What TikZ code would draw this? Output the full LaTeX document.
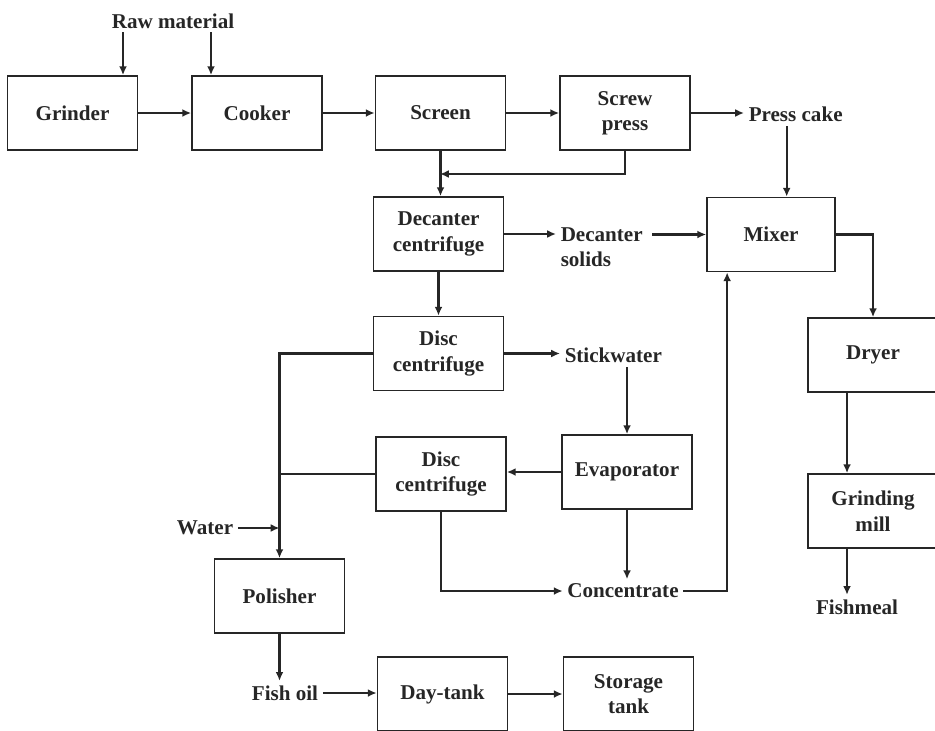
\documentclass[tikz,border=0pt]{standalone}
\usepackage{fontspec}
\setmainfont{Liberation Serif}
\usepackage{tikz}
\usetikzlibrary{arrows.meta,positioning,calc}

\begin{document}
\begin{tikzpicture}[
  x=0.02cm, y=-0.02cm,
  unit/.style={rectangle, draw=black!85, line width=1pt, minimum width=2.6cm, minimum height=1.48cm, align=center, inner sep=1pt, font=\fontsize{12}{14.5}\selectfont\bfseries, text=black!85},
  stream/.style={inner sep=2.5pt, align=left, font=\fontsize{12}{14.5}\selectfont\bfseries, text=black!85},
  flow/.style={line width=1.3pt, draw=black!85},
  >={Latex[length=5pt,width=4.5pt]}
]
  \useasboundingbox (0,0) rectangle (935,730);

  % Top row: raw material to press cake
  \node[stream] (raw) at (173, 21) {Raw material};
  \node[unit] (grinder) at (72.5, 113) {Grinder};
  \node[unit] (cooker) at (257, 113) {Cooker};
  \node[unit] (screen) at (440.5, 113) {Screen};
  \node[unit] (screw) at (625, 113) {Screw\\press};
  \node[stream, anchor=west] (cake) at (744, 114) {Press cake};

  % Second row
  \node[unit] (decanter) at (438.5, 234) {Decanter\\centrifuge};
  \node[stream, anchor=west] (solids) at (556, 247) {Decanter\\solids};
  \node[unit, minimum width=2.56cm] (mixer) at (771, 234.5) {Mixer};

  % Oil and water branch
  \node[unit] (disc1) at (438.5, 353.5) {Disc\\centrifuge};
  \node[stream, anchor=west] (stick) at (560, 355) {Stickwater};
  \node[unit] (dryer) at (873, 355) {Dryer};
  \node[unit] (disc2) at (441, 474) {Disc\\centrifuge};
  \node[unit] (evap) at (627, 472) {Evaporator};
  \node[unit] (mill) at (873, 511) {Grinding\\mill};
  \node[stream] (water) at (205, 528) {Water};
  \node[unit] (polisher) at (279.5, 596) {Polisher};
  \node[stream] (conc) at (623, 591) {Concentrate};
  \node[stream] (meal) at (857, 607) {Fishmeal};

  % Bottom row: oil storage
  \node[stream] (oil) at (285, 693) {Fish oil};
  \node[unit] (daytank) at (442.5, 694) {Day-tank};
  \node[unit] (storage) at (628.5, 694) {Storage\\tank};

  % Helper points
  \coordinate (r1) at (123, 32);
  \coordinate (r2) at (211, 32);
  \coordinate (j1) at (440, 174);
  \coordinate (c1) at ($(cake.south)+(-9,0)$);
  \coordinate (d1) at ($(dryer.south)+(-26,0)$);
  \coordinate (m1) at ($(mixer.south west)+(21,0)$);
  \coordinate (s1) at ($(solids.east |- mixer.west)+(5,0)$);

  % Main line
  \draw[flow, ->] (r1) -- (r1 |- grinder.north);
  \draw[flow, ->] (r2) -- (r2 |- cooker.north);
  \draw[flow, ->] (grinder) -- (cooker);
  \draw[flow, ->] (cooker) -- (screen);
  \draw[flow, ->] (screen) -- (screw);
  \draw[flow, ->] (screw.east) -- (screw.east -| cake.west);
  \draw[flow, ->] (c1) -- (c1 |- mixer.north);
  \draw[flow, ->] (screen.south) -- (screen.south |- decanter.north);
  \draw[flow, ->] (screw.south) |- (j1);

  % Decanter and mixer
  \draw[flow, ->] (decanter.east) -- (decanter.east -| solids.west);
  \draw[flow, ->] (s1) -- (mixer.west);
  \draw[flow, ->] (mixer.east) -| (dryer.north);
  \draw[flow, ->] (d1) -- (d1 |- mill.north);
  \draw[flow, ->] (d1 |- mill.south) -- (d1 |- meal.north);

  % Stickwater and concentrate
  \draw[flow, ->] (decanter.south) -- (decanter.south |- disc1.north);
  \draw[flow, ->] (disc1.east) -- (disc1.east -| stick.west);
  \draw[flow, ->] (evap.north |- stick.south) -- (evap.north);
  \draw[flow, ->] (evap.west) -- (evap.west -| disc2.east);
  \draw[flow, ->] (evap.south) -- (evap.south |- conc.north);
  \draw[flow, ->] (disc2.south) |- (conc.west);
  \draw[flow, ->] (conc.east) -| (m1);

  % Oil line
  \draw[flow, ->] (disc1.west) -| (polisher.north);
  \draw[flow] (disc2.west) -- (disc2.west -| polisher.north);
  \draw[flow, ->] (water.east) -- (water.east -| polisher.north);
  \draw[flow, ->] (polisher.south) -- (polisher.south |- oil.north);
  \draw[flow, ->] (oil.east) -- (oil.east -| daytank.west);
  \draw[flow, ->] (daytank) -- (storage);
\end{tikzpicture}
\end{document}
